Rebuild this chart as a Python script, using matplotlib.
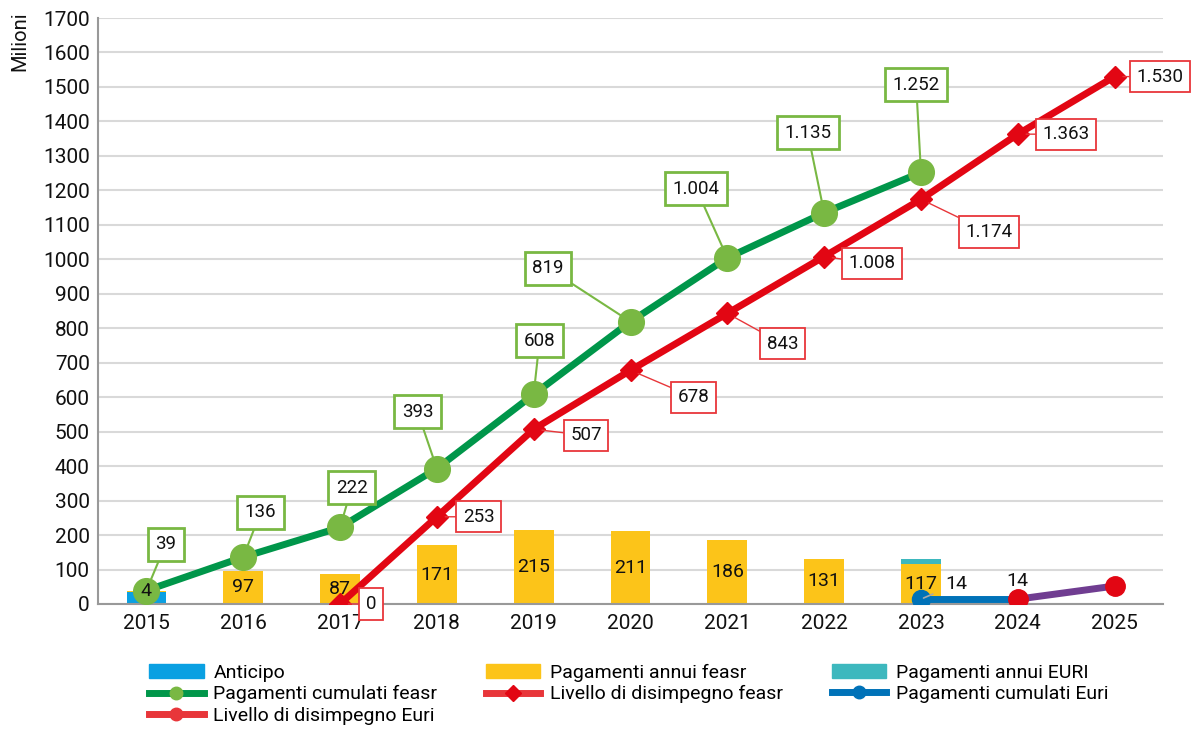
import matplotlib
matplotlib.use("Agg")
import matplotlib.pyplot as plt
from matplotlib.lines import Line2D
from matplotlib.patches import Patch
import numpy as np

plt.rcParams['font.family'] = ['Roboto', 'DejaVu Sans']

years = ['2015', '2016', '2017', '2018', '2019', '2020', '2021', '2022', '2023', '2024', '2025']
anticipo = [35, 0, 0, 0, 0, 0, 0, 0, 0, 0, 0]
annui_feasr = [4, 97, 87, 171, 215, 211, 186, 131, 117, 0, 0]
annui_euri = [0, 0, 0, 0, 0, 0, 0, 0, 14, 0, 0]
cum_feasr = [39, 136, 222, 393, 608, 819, 1004, 1135, 1252]
disimp_feasr_years = ['2017', '2018', '2019', '2020', '2021', '2022', '2023', '2024', '2025']
disimp_feasr = [0, 253, 507, 678, 843, 1008, 1174, 1363, 1530]
cum_euri_years = ['2023', '2024']
cum_euri = [14, 14]
disimp_euri_years = ['2024', '2025']
disimp_euri = [14, 52]

cum_feasr_labels = ['39', '136', '222', '393', '608', '819', '1.004', '1.135', '1.252']
disimp_feasr_labels = ['0', '253', '507', '678', '843', '1.008', '1.174', '1.363', '1.530']

C_ANT = '#0AA0E2'
C_YEL = '#FCC419'
C_TEAL = '#3DB8BE'
C_GREEN = '#00964A'
C_GMARK = '#79B843'
C_RED = '#E20613'
C_BLUE = '#0072B8'
C_RED2 = '#E8363A'
C_PURPLE = '#703D91'

fig = plt.figure(figsize=(11.92, 7.29), dpi=100)
ax = fig.add_axes([0.0822, 0.1715, 0.8935, 0.8038])

x = np.arange(len(years))
idx = {y: i for i, y in enumerate(years)}
w = 0.41

ax.bar(x, anticipo, w, color=C_ANT, zorder=2)
ax.bar(x, annui_feasr, w, bottom=anticipo, color=C_YEL, zorder=2)
bottom2 = [a + b for a, b in zip(anticipo, annui_feasr)]
ax.bar(x, annui_euri, w, bottom=bottom2, color=C_TEAL, zorder=2)

for i, v in enumerate(annui_feasr):
    if v > 0:
        ax.text(x[i], anticipo[i] + v / 2, str(v), ha='center', va='center', fontsize=14, color='#111111', zorder=6)

xc = [idx[y] for y in years[:len(cum_feasr)]]
ax.plot(xc, cum_feasr, color=C_GREEN, lw=5, zorder=3, solid_capstyle='butt')
ax.plot(xc, cum_feasr, 'o', color=C_GMARK, ms=18.5, zorder=4)

xd = [idx[y] for y in disimp_feasr_years]
ax.plot(xd, disimp_feasr, color=C_RED, lw=5, zorder=3)
ax.plot(xd, disimp_feasr, 'D', color=C_RED, ms=11, zorder=4)

xe = [idx[y] for y in cum_euri_years]
ax.plot(xe, cum_euri, color=C_BLUE, lw=5, zorder=3)
ax.plot(xe, cum_euri, 'o', color=C_BLUE, ms=13, zorder=4)

xf = [idx[y] for y in disimp_euri_years]
ax.plot(xf, disimp_euri, color=C_PURPLE, lw=5, zorder=3)
ax.plot(xf, disimp_euri, 'o', color=C_RED, ms=14, zorder=5)

# green labels (offsets in data units: dx categories, dy value)
g_off = [(0.2, 135), (0.18, 130), (0.12, 115), (-0.2, 165), (0.06, 155), (-0.85, 155), (-0.32, 200), (-0.17, 232), (-0.05, 255)]
for i, (lab, (dx, dy)) in enumerate(zip(cum_feasr_labels, g_off)):
    ax.annotate(lab, xy=(xc[i], cum_feasr[i]), xytext=(xc[i] + dx, cum_feasr[i] + dy),
                ha='center', va='center', fontsize=13.5, color='#111111', zorder=7,
                bbox=dict(boxstyle='square,pad=0.4', fc='white', ec=C_GMARK, lw=2),
                arrowprops=dict(arrowstyle='-', color=C_GMARK, lw=1.5, shrinkA=0, shrinkB=6))

r_off = [(0.32, 0), (0.43, 0), (0.54, -18), (0.65, -78), (0.57, -88), (0.49, -20), (0.7, -95), (0.5, 0), (0.47, 0)]
for i, (lab, (dx, dy)) in enumerate(zip(disimp_feasr_labels, r_off)):
    ax.annotate(lab, xy=(xd[i], disimp_feasr[i]), xytext=(xd[i] + dx, disimp_feasr[i] + dy),
                ha='center', va='center', fontsize=13.5, color='#111111', zorder=7,
                bbox=dict(boxstyle='square,pad=0.35', fc='white', ec=C_RED2, lw=1.3),
                arrowprops=dict(arrowstyle='-', color=C_RED2, lw=1.0, shrinkA=0, shrinkB=6))

ax.annotate(str(cum_euri[0]), xy=(xe[0], cum_euri[0]), xytext=(xe[0] + 0.37, cum_euri[0] + 45),
            ha='center', va='center', fontsize=14, color='#111111', zorder=7,
            arrowprops=dict(arrowstyle='-', color='#AAAAAA', lw=1.2, shrinkA=8, shrinkB=2))
ax.text(xe[1], cum_euri[1] + 52, str(cum_euri[1]), ha='center', va='center', fontsize=14, color='#111111', zorder=7)

ax.set_xlim(-0.5, len(years) - 0.5)
ax.set_ylim(0, 1700)
ax.set_yticks(np.arange(0, 1701, 100))
ax.set_xticks(x)
ax.set_xticklabels(years)
ax.tick_params(axis='both', length=0, labelsize=15, colors='#111111')
ax.tick_params(axis='x', pad=7)
ax.tick_params(axis='y', pad=6)
ax.grid(axis='y', color='#D9D9D9', lw=1.5, zorder=0)
ax.set_axisbelow(True)
for s in ['top', 'right']:
    ax.spines[s].set_visible(False)
ax.spines['left'].set_color('#999999')
ax.spines['bottom'].set_color('#999999')
ax.spines['left'].set_linewidth(1.5)
ax.spines['bottom'].set_linewidth(1.5)

fig.text(0.009, 0.985, 'Milioni', rotation=90, ha='left', va='top', fontsize=14.5, color='#111111')

handles = [
    Patch(color=C_ANT),
    Line2D([], [], color=C_GREEN, lw=5, marker='o', ms=9, mfc=C_GMARK, mec=C_GMARK),
    Line2D([], [], color=C_RED2, lw=5, marker='o', ms=9, mfc=C_RED2, mec=C_RED2),
    Patch(color=C_YEL),
    Line2D([], [], color=C_RED2, lw=5, marker='D', ms=8, mfc=C_RED, mec=C_RED),
    Patch(color=C_TEAL),
    Line2D([], [], color=C_BLUE, lw=5, marker='o', ms=9, mfc=C_BLUE, mec=C_BLUE),
]
labels = ['Anticipo', 'Pagamenti cumulati feasr', 'Livello di disimpegno Euri',
          'Pagamenti annui feasr', 'Livello di disimpegno feasr',
          'Pagamenti annui EURI', 'Pagamenti cumulati Euri']
fig.legend(handles, labels, ncol=3, loc='upper left', bbox_to_anchor=(0.117, 0.103),
           frameon=False, fontsize=14, handlelength=2.8, handleheight=0.7,
           columnspacing=2.5, labelspacing=0.18, handletextpad=0.5, borderpad=0)

fig.savefig('out.png', dpi=100)
